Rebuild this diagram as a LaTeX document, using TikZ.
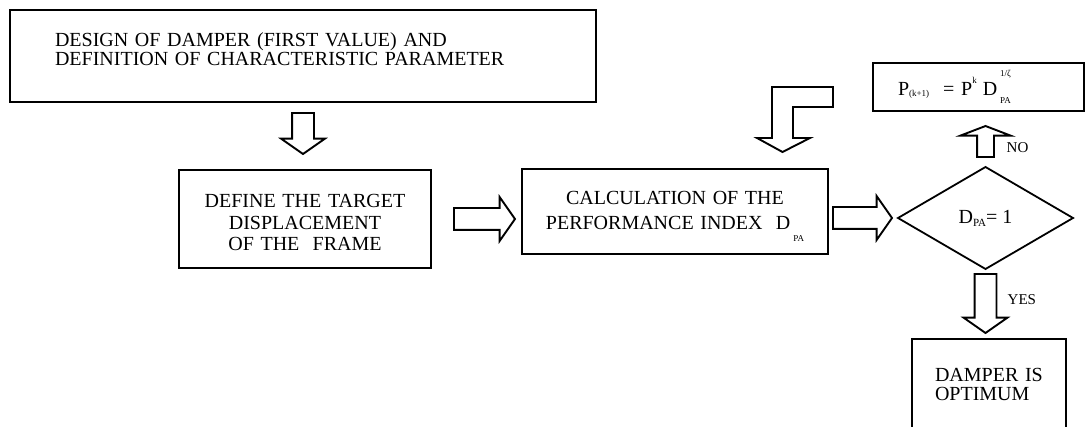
\documentclass[tikz,border=0pt]{standalone}
\usepackage{fontspec}
\setmainfont{Liberation Serif}
\usetikzlibrary{shapes.geometric, shapes.arrows, calc}

\newcommand{\boxfont}{\fontsize{20}{19}\selectfont}
\newcommand{\smallsub}[1]{{\fontsize{9}{9}\selectfont #1}}

\begin{document}
\begin{tikzpicture}[x=1pt, y=-1pt,
    flowbox/.style={draw, line width=1.8pt, outer sep=0pt, font=\boxfont},
    hollow/.style={single arrow, draw, line width=1.9pt, outer sep=0pt,
        inner xsep=0pt, inner ysep=10pt, single arrow head extend=11pt,
        single arrow tip angle=110, minimum height=#1},
    flowlabel/.style={font=\fontsize{15}{15}\selectfont, inner sep=0pt}]

    \useasboundingbox (0, 0) rectangle (1086, 427);
    \clip (0, 0) rectangle (1086, 427);

    \node [flowbox, line width=2.6pt, minimum width=586pt, minimum height=92pt,
        text width=496pt, inner xsep=45pt, align=left,
        text height=14pt, text depth=32pt] (design) at (303, 56)
        {DESIGN OF DAMPER (FIRST VALUE) AND\\DEFINITION OF CHARACTERISTIC PARAMETER};

    \node [flowbox, minimum width=252pt, minimum height=98pt,
        text width=220pt, inner xsep=16pt, align=center,
        text height=14pt, text depth=36pt] (target) at (305, 219)
        {DEFINE THE TARGET\\[2.5pt]DISPLACEMENT\\[2.5pt]OF THE\ \ FRAME};

    \node [flowbox, minimum width=306pt, minimum height=85pt,
        text width=280pt, inner xsep=13pt, align=center,
        text height=14pt, text depth=27pt] (perf) at (675, 211.5)
        {CALCULATION OF THE\\[6pt]PERFORMANCE INDEX\ \ D\kern3pt\raisebox{-12pt}{\smallsub{PA}}\hspace*{19pt}};

    \node [draw, diamond, line width=1.8pt, outer sep=0pt, inner sep=0pt, aspect=1.7,
        minimum width=175pt, minimum height=102pt, font=\boxfont] (check) at (985.5, 218)
        {D\raisebox{-3pt}{\fontsize{11}{11}\selectfont PA}= 1};

    \node [flowbox, minimum width=211pt, minimum height=48pt,
        text width=161pt, inner xsep=25pt, align=left] (update) at (978.5, 87)
        {P\raisebox{-1pt}{\smallsub{(k+1)}}\hspace{14pt}= P\raisebox{12pt}{\smallsub{k}}\hspace{6pt}D\kern3pt\rlap{\raisebox{-8pt}{\smallsub{PA}}}\raisebox{19pt}{\smallsub{1/ζ}}};

    \node [flowbox, minimum width=154pt, minimum height=101pt,
        text width=108pt, inner xsep=23pt, align=left,
        text height=14pt, text depth=31pt] (optimum) at (989, 389.5)
        {DAMPER IS\\OPTIMUM};

    \node [hollow=41pt, rotate=-90, anchor=tail] (down1) at ($(design.south) + (0, 11)$) {};
    \node [hollow=61pt, anchor=tail] (right1) at ($(target.east) + (23, 0)$) {};
    \node [hollow=59pt, anchor=tip] (right2) at ($(check.west) + (-6, 0)$) {};
    \node [hollow=59pt, rotate=-90, anchor=tail] (yesarrow) at ($(check.south) + (0, 5)$) {};
    \node [hollow=31pt, inner ysep=7.5pt, single arrow head extend=16.5pt,
        single arrow tip angle=138, rotate=90, anchor=tail] (noarrow) at ($(check.north) + (0, -10)$) {};

    \node [flowlabel, anchor=west] (yes) at ($(yesarrow.tail) + (22, 26)$) {YES};
    \node [flowlabel, anchor=west] (no) at ($(noarrow.tail) + (21, -9.5)$) {NO};

    \draw [line width=1.9pt] (833, 87) -- (833, 107) -- (793, 107) -- (793, 138)
        -- (810, 138) -- (782.5, 152) -- (757, 138) -- (772, 138) -- (772, 87) -- cycle;

\end{tikzpicture}
\end{document}
